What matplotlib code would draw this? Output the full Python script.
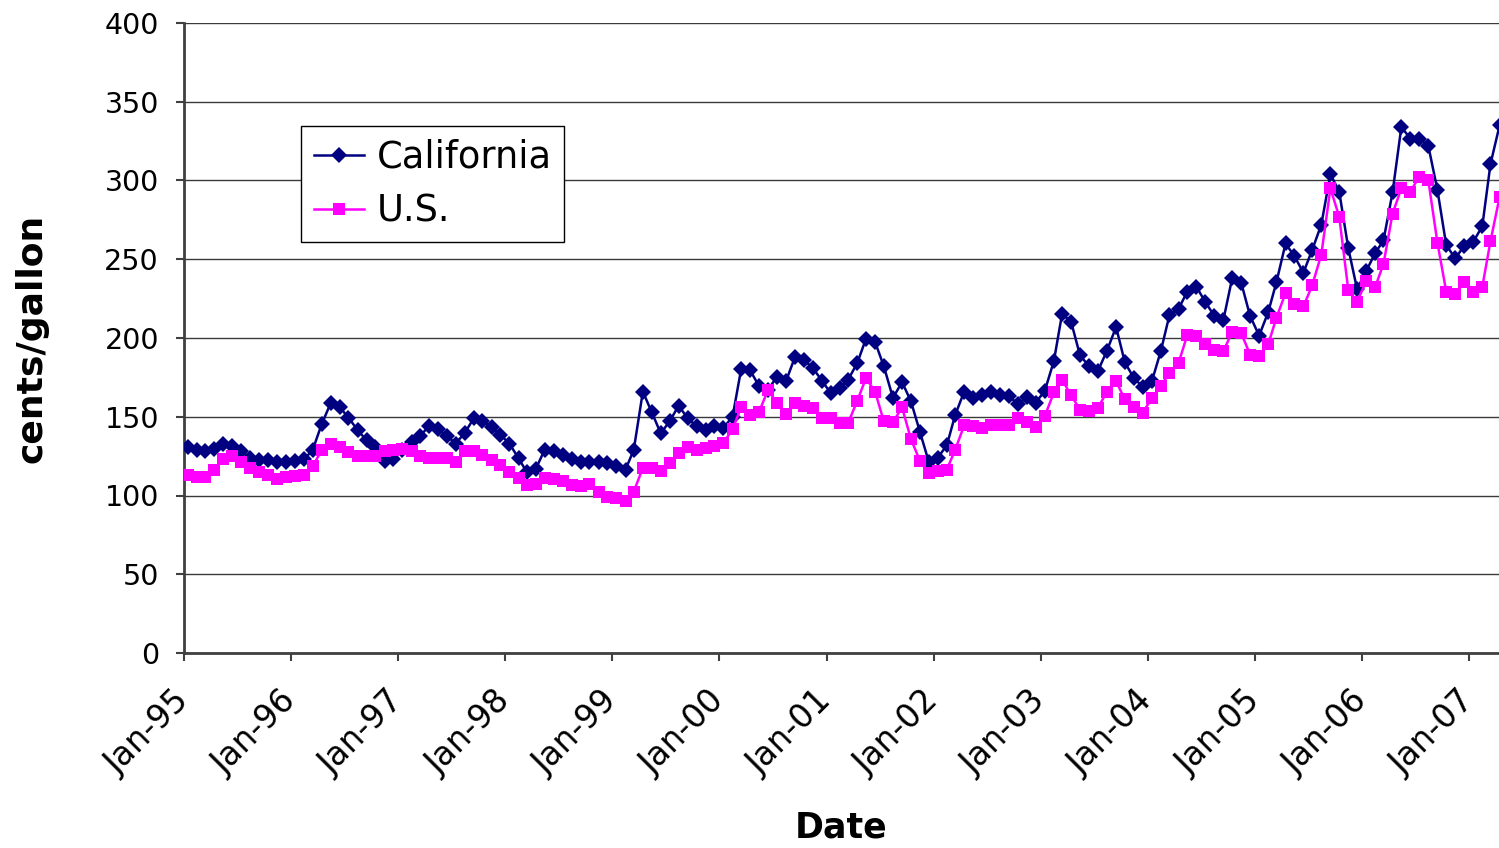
import matplotlib
matplotlib.use("Agg")
import matplotlib.pyplot as plt
import matplotlib.dates as mdates
from datetime import datetime

# Monthly data, Jan-1995 .. Apr-2007 (cents/gallon)
california = [
    131, 129, 128, 129.5, 133, 131.5, 128, 124, 122.5, 122.5, 121.5, 121.5,
    122, 123, 129, 145.5, 158.5, 156, 149.5, 141.5, 135, 131, 122, 123,
    129, 134, 137.5, 144, 142, 138, 133, 139.5, 149, 147, 143.5, 138.5,
    133, 123.5, 115, 117, 129, 128, 126, 123, 121.5, 121.5, 121.5, 120.5,
    119, 116.5, 129, 166, 153, 139.5, 147, 157, 149, 144, 141.5, 144,
    143, 150, 180, 179.5, 169.5, 167, 175.5, 172.5, 188, 186, 181, 173,
    165, 168.5, 173.5, 184, 199.5, 197.5, 182, 162, 172, 160, 140.5, 121.5,
    124, 132, 151, 166, 162, 163.5, 165.5, 164, 163, 158, 162.5, 159,
    166.5, 185.5, 215.5, 210, 189, 182, 179, 192, 207, 184.5, 174.5, 169,
    172.5, 192, 214.5, 218.5, 229.5, 232.5, 223, 214, 211.5, 238, 235, 214,
    201.5, 216.5, 235.5, 260, 252, 241.5, 256, 272, 304, 293, 257, 231,
    242.5, 254, 262, 292.5, 334, 326.5, 326.5, 322, 294, 259, 250.5, 258.5,
    261, 271, 310.5, 335,
]
us = [
    113, 111.5, 111.5, 116, 123, 125, 121.5, 117.5, 115, 113, 110.5, 111.5,
    112.5, 113, 118.5, 129, 133, 131, 127.5, 125, 125, 125, 128, 129,
    129.5, 128, 125, 124, 124, 124, 121.5, 128, 128.5, 126, 122.5, 119.5,
    115, 111, 106.5, 107.5, 111, 110.5, 109.5, 106.5, 106, 107, 102.5, 99,
    98.5, 96.5, 102.5, 117.5, 117.5, 115.5, 120.5, 127, 130.5, 129, 130, 131.5,
    133.5, 142, 156, 151, 153, 167, 159, 151.5, 159, 157, 155.5, 149.5,
    149.5, 146, 146, 160, 174.5, 166, 147, 146.5, 156, 136, 122, 114,
    115.5, 116.5, 129, 144.5, 144, 143, 144.5, 144.5, 144.5, 149, 146.5, 143.5,
    150.5, 165.5, 173.5, 163.5, 154.5, 153.5, 155.5, 166, 172.5, 161, 156.5, 152.5,
    162, 169.5, 178, 184, 202, 201.5, 196, 192.5, 191.5, 204, 203, 189.5,
    188.5, 196, 213, 228.5, 221.5, 220, 233.5, 253, 295, 277, 230.5, 223,
    236, 232.5, 247, 279, 295, 293, 302.5, 300, 260.5, 229.5, 228, 235.5,
    229.5, 232.5, 261.5, 289.5,
]
start_year = 1995
dates = [datetime(start_year + i // 12, i % 12 + 1, 15) for i in range(len(california))]
series_names = ["California", "U.S."]
y_ticks = [0, 50, 100, 150, 200, 250, 300, 350, 400]
x_label = "Date"
y_label = "cents/gallon"

fig = plt.figure(figsize=(14.99, 8.48), dpi=100)
ax = fig.add_axes([184 / 1499, 195 / 848, 1315 / 1499, 630 / 848])

ax.plot(dates, california, color="#000080", lw=1.8, marker="D", markersize=8,
        markeredgewidth=0, label=series_names[0], zorder=3)
ax.plot(dates, us, color="#FF00FF", lw=1.8, marker="s", markersize=8,
        markeredgewidth=0, label=series_names[1], zorder=4)

ax.set_ylim(0, 400)
ax.set_yticks(y_ticks)
ax.set_xlim(datetime(1995, 1, 1), datetime(2007, 4, 13))
ax.xaxis.set_major_locator(mdates.YearLocator(1, month=1, day=1))
ax.xaxis.set_major_formatter(mdates.DateFormatter("%b-%y"))

ax.grid(axis="y", color="#3a3a3a", lw=1.0, zorder=0)
ax.set_axisbelow(True)
for s in ["top", "right"]:
    ax.spines[s].set_visible(False)
for s in ["left", "bottom"]:
    ax.spines[s].set_color("#404040")
    ax.spines[s].set_linewidth(2)

ax.tick_params(axis="both", colors="#404040", length=6, width=1.5, labelcolor="black")
ax.tick_params(axis="y", pad=12, labelsize=20.5)
ax.tick_params(axis="x", pad=25, labelsize=23.5)
for lbl in ax.get_xticklabels():
    lbl.set_rotation(45)
    lbl.set_ha("right")
    lbl.set_va("center")
    lbl.set_rotation_mode("anchor")

ax.set_xlabel(x_label, fontsize=25, fontweight="bold")
ax.set_ylabel(y_label, fontsize=26, fontweight="bold")
ax.xaxis.set_label_coords(0.5, -0.25)
ax.yaxis.set_label_coords(-0.103, 0.5)

leg = ax.legend(loc="upper left", bbox_to_anchor=(0.089, 0.8365), borderaxespad=0,
                fontsize=26.5, frameon=True, fancybox=False, framealpha=1,
                edgecolor="black", handlelength=1.35, handletextpad=0.35,
                borderpad=0.35, labelspacing=0.45)
leg.get_frame().set_linewidth(1.0)

fig.savefig("out.png", dpi=100)
